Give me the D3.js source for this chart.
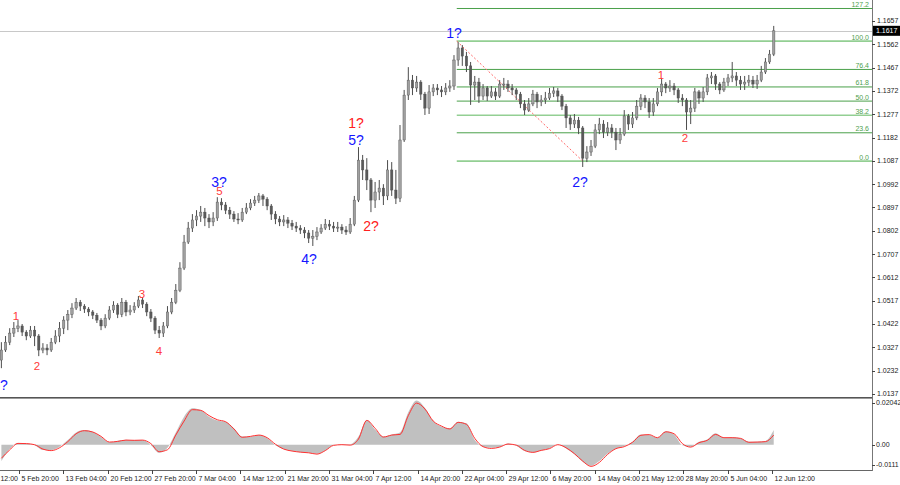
<!DOCTYPE html>
<html><head><meta charset="utf-8">
<script src="https://cdn.jsdelivr.net/npm/d3@7"></script>
<style>html,body{margin:0;padding:0;background:#fff;overflow:hidden}svg{display:block;font-family:"Liberation Sans",Arial,sans-serif}</style>
</head><body><svg id="c" width="900" height="485"></svg>
<script>
// ---------- DATA ----------
// one candle = 3 four-hour bars
const opens=[1.0275,1.0316,1.0348,1.0385,1.0405,1.0414,1.0389,1.0373,1.0397,1.0373,
1.0316,1.0324,1.0316,1.0348,1.0373,1.0405,1.0438,1.0462,1.0487,1.0511,
1.0495,1.0483,1.0471,1.0458,1.0438,1.0414,1.0446,1.0479,1.0499,1.0462,
1.0511,1.0471,1.0479,1.0495,1.0520,1.0503,1.0471,1.0446,1.0397,1.0385,
1.0414,1.0471,1.0511,1.0560,1.0650,1.0756,1.0813,1.0846,1.0862,1.0878,
1.0854,1.0838,1.0854,1.0919,1.0907,1.0886,1.0870,1.0850,1.0846,1.0878,
1.0895,1.0915,1.0927,1.0944,1.0931,1.0903,1.0870,1.0850,1.0838,1.0846,
1.0833,1.0821,1.0813,1.0805,1.0793,1.0772,1.0780,1.0797,1.0813,1.0829,
1.0821,1.0813,1.0817,1.0805,1.0797,1.0829,1.0927,1.1090,1.1050,1.1009,
1.0927,1.0960,1.0976,1.0944,1.1050,1.0968,1.0935,1.1172,1.1355,1.1416,
1.1384,1.1408,1.1359,1.1302,1.1368,1.1384,1.1376,1.1368,1.1384,1.1392,
1.1498,1.1547,1.1514,1.1474,1.1396,1.1408,1.1351,1.1384,1.1351,1.1368,
1.1351,1.1400,1.1400,1.1384,1.1376,1.1359,1.1319,1.1294,1.1319,1.1359,
1.1327,1.1335,1.1343,1.1363,1.1372,1.1351,1.1310,1.1262,1.1237,1.1253,
1.1221,1.1098,1.1123,1.1147,1.1213,1.1237,1.1204,1.1221,1.1204,1.1172,
1.1196,1.1270,1.1237,1.1262,1.1310,1.1343,1.1327,1.1286,1.1319,1.1368,
1.1400,1.1384,1.1392,1.1376,1.1343,1.1335,1.1286,1.1302,1.1368,1.1343,
1.1368,1.1425,1.1433,1.1400,1.1376,1.1408,1.1425,1.1433,1.1416,1.1400,
1.1408,1.1416,1.1400,1.1416,1.1449,1.1490,1.1522];
const highs=[1.0348,1.0373,1.0405,1.0430,1.0438,1.0422,1.0397,1.0414,1.0414,1.0381,
1.0344,1.0340,1.0365,1.0397,1.0430,1.0454,1.0479,1.0507,1.0528,1.0520,
1.0503,1.0491,1.0479,1.0467,1.0446,1.0462,1.0495,1.0515,1.0507,1.0528,
1.0520,1.0499,1.0511,1.0536,1.0532,1.0511,1.0483,1.0454,1.0414,1.0430,
1.0495,1.0528,1.0585,1.0674,1.0785,1.0838,1.0870,1.0886,1.0903,1.0895,
1.0870,1.0878,1.0939,1.0935,1.0919,1.0899,1.0882,1.0874,1.0895,1.0915,
1.0931,1.0944,1.0956,1.0952,1.0939,1.0911,1.0882,1.0862,1.0866,1.0858,
1.0846,1.0838,1.0825,1.0817,1.0805,1.0805,1.0817,1.0829,1.0850,1.0846,
1.0838,1.0838,1.0829,1.0821,1.0854,1.0944,1.1143,1.1111,1.1098,1.1017,
1.1001,1.1009,1.0992,1.1090,1.1082,1.1050,1.1233,1.1376,1.1469,1.1437,
1.1433,1.1416,1.1368,1.1396,1.1400,1.1400,1.1392,1.1404,1.1416,1.1518,
1.1571,1.1559,1.1531,1.1490,1.1433,1.1425,1.1400,1.1392,1.1392,1.1384,
1.1416,1.1425,1.1416,1.1400,1.1384,1.1368,1.1335,1.1343,1.1376,1.1368,
1.1355,1.1368,1.1384,1.1388,1.1384,1.1359,1.1319,1.1274,1.1278,1.1266,
1.1229,1.1147,1.1172,1.1237,1.1262,1.1253,1.1245,1.1237,1.1221,1.1221,
1.1294,1.1278,1.1286,1.1335,1.1359,1.1355,1.1343,1.1343,1.1384,1.1425,
1.1408,1.1416,1.1404,1.1384,1.1359,1.1343,1.1335,1.1384,1.1376,1.1388,
1.1441,1.1449,1.1441,1.1408,1.1425,1.1441,1.1490,1.1449,1.1433,1.1433,
1.1437,1.1433,1.1437,1.1474,1.1506,1.1539,1.1637];
const lows=[1.0242,1.0308,1.0336,1.0369,1.0389,1.0373,1.0356,1.0365,1.0332,1.0291,
1.0303,1.0295,1.0308,1.0340,1.0348,1.0381,1.0397,1.0446,1.0479,1.0475,
1.0467,1.0454,1.0442,1.0426,1.0397,1.0405,1.0438,1.0467,1.0446,1.0450,
1.0454,1.0458,1.0467,1.0487,1.0487,1.0454,1.0430,1.0381,1.0365,1.0369,
1.0405,1.0462,1.0503,1.0552,1.0642,1.0748,1.0797,1.0821,1.0838,1.0821,
1.0813,1.0821,1.0842,1.0886,1.0870,1.0850,1.0838,1.0829,1.0838,1.0870,
1.0886,1.0903,1.0915,1.0903,1.0886,1.0846,1.0829,1.0821,1.0821,1.0813,
1.0805,1.0797,1.0789,1.0772,1.0752,1.0740,1.0764,1.0789,1.0805,1.0805,
1.0797,1.0797,1.0789,1.0785,1.0789,1.0821,1.0919,1.1009,1.0968,1.0878,
1.0895,1.0927,1.0907,1.0927,1.0944,1.0911,1.0919,1.1164,1.1335,1.1355,
1.1368,1.1335,1.1274,1.1278,1.1351,1.1355,1.1347,1.1355,1.1368,1.1376,
1.1474,1.1474,1.1449,1.1315,1.1335,1.1323,1.1335,1.1331,1.1343,1.1335,
1.1343,1.1376,1.1368,1.1355,1.1335,1.1302,1.1274,1.1286,1.1310,1.1302,
1.1310,1.1319,1.1335,1.1347,1.1327,1.1294,1.1221,1.1213,1.1221,1.1196,
1.1062,1.1082,1.1107,1.1139,1.1196,1.1180,1.1188,1.1180,1.1131,1.1156,
1.1188,1.1213,1.1221,1.1253,1.1294,1.1302,1.1262,1.1270,1.1310,1.1351,
1.1363,1.1368,1.1355,1.1323,1.1310,1.1213,1.1237,1.1286,1.1319,1.1327,
1.1355,1.1400,1.1376,1.1359,1.1368,1.1392,1.1408,1.1392,1.1376,1.1376,
1.1392,1.1384,1.1380,1.1408,1.1441,1.1482,1.1514];
const closes=[1.0316,1.0348,1.0385,1.0405,1.0414,1.0389,1.0373,1.0397,1.0373,1.0316,
1.0324,1.0316,1.0348,1.0373,1.0405,1.0438,1.0462,1.0487,1.0511,1.0495,
1.0483,1.0471,1.0458,1.0438,1.0414,1.0446,1.0479,1.0499,1.0462,1.0511,
1.0471,1.0479,1.0495,1.0520,1.0503,1.0471,1.0446,1.0397,1.0385,1.0414,
1.0471,1.0511,1.0560,1.0650,1.0756,1.0813,1.0846,1.0862,1.0878,1.0854,
1.0838,1.0854,1.0919,1.0907,1.0886,1.0870,1.0850,1.0846,1.0878,1.0895,
1.0915,1.0927,1.0944,1.0931,1.0903,1.0870,1.0850,1.0838,1.0846,1.0833,
1.0821,1.0813,1.0805,1.0793,1.0772,1.0780,1.0797,1.0813,1.0829,1.0821,
1.0813,1.0817,1.0805,1.0797,1.0829,1.0927,1.1090,1.1050,1.1009,1.0927,
1.0960,1.0976,1.0944,1.1050,1.0968,1.0935,1.1172,1.1355,1.1416,1.1384,
1.1408,1.1359,1.1302,1.1368,1.1384,1.1376,1.1368,1.1384,1.1392,1.1498,
1.1547,1.1514,1.1474,1.1396,1.1408,1.1351,1.1384,1.1351,1.1368,1.1351,
1.1400,1.1400,1.1384,1.1376,1.1359,1.1319,1.1294,1.1319,1.1359,1.1327,
1.1335,1.1343,1.1363,1.1372,1.1351,1.1310,1.1262,1.1237,1.1253,1.1221,
1.1098,1.1123,1.1147,1.1213,1.1237,1.1204,1.1221,1.1204,1.1172,1.1196,
1.1270,1.1237,1.1262,1.1310,1.1343,1.1327,1.1286,1.1319,1.1368,1.1400,
1.1384,1.1392,1.1376,1.1343,1.1335,1.1286,1.1302,1.1368,1.1343,1.1368,
1.1425,1.1433,1.1400,1.1376,1.1408,1.1425,1.1433,1.1416,1.1400,1.1408,
1.1416,1.1400,1.1416,1.1449,1.1490,1.1522,1.1617];

// MACD (every second candle)
const macdHist=[-0.0075,-0.0020,0.0008,0.0005,-0.0002,-0.0024,-0.0024,-0.0009,0.0021,0.0056,
0.0067,0.0059,0.0035,0.0011,0.0018,0.0023,0.0021,0.0021,-0.0002,-0.0037,
-0.0014,0.0056,0.0128,0.0166,0.0158,0.0128,0.0111,0.0105,0.0075,0.0037,
0.0037,0.0044,0.0029,-0.0002,-0.0020,-0.0029,-0.0034,-0.0037,-0.0041,-0.0026,
-0.0002,0.0002,0.0002,0.0037,0.0113,0.0069,0.0037,0.0047,0.0056,0.0148,
0.0202,0.0169,0.0108,0.0082,0.0075,0.0105,0.0098,0.0021,-0.0009,-0.0014,
-0.0011,0.0005,-0.0005,-0.0029,-0.0035,-0.0026,-0.0017,0.0002,-0.0017,-0.0044,
-0.0078,-0.0096,-0.0075,-0.0040,-0.0017,-0.0006,0.0014,0.0047,0.0044,0.0032,
0.0062,0.0047,-0.0002,-0.0009,0.0014,0.0024,0.0052,0.0032,0.0034,0.0029,
0.0014,0.0014,0.0017,0.0067];
const macdSignal=[-0.0062,-0.0024,0.0006,0.0005,0.0000,-0.0020,-0.0027,-0.0014,0.0014,0.0050,
0.0064,0.0058,0.0038,0.0012,0.0015,0.0021,0.0020,0.0021,0.0005,-0.0032,
-0.0023,0.0044,0.0108,0.0160,0.0157,0.0133,0.0114,0.0105,0.0072,0.0034,
0.0038,0.0044,0.0032,0.0002,-0.0020,-0.0029,-0.0034,-0.0037,-0.0043,-0.0027,
-0.0003,0.0000,-0.0002,0.0026,0.0111,0.0075,0.0035,0.0044,0.0047,0.0133,
0.0190,0.0163,0.0108,0.0085,0.0072,0.0102,0.0093,0.0029,-0.0009,-0.0017,
-0.0011,0.0003,-0.0002,-0.0026,-0.0035,-0.0026,-0.0018,0.0000,-0.0014,-0.0041,
-0.0075,-0.0099,-0.0081,-0.0044,-0.0018,-0.0009,0.0011,0.0043,0.0046,0.0032,
0.0059,0.0050,0.0005,-0.0011,0.0009,0.0020,0.0047,0.0032,0.0032,0.0029,
0.0011,0.0012,0.0014,0.0044];

const priceTicks=["1.1752","1.1657","1.1562","1.1467","1.1372","1.1277","1.1182","1.1087","1.0992","1.0897","1.0802","1.0707","1.0612","1.0517","1.0422","1.0327","1.0232","1.0137"];
const timeLabels=["29 Jan 12:00","5 Feb 20:00","13 Feb 04:00","20 Feb 12:00","27 Feb 20:00","7 Mar 04:00","14 Mar 12:00","21 Mar 20:00","31 Mar 04:00","7 Apr 12:00","14 Apr 20:00","22 Apr 04:00","29 Apr 12:00","6 May 20:00","14 May 04:00","21 May 12:00","28 May 20:00","5 Jun 04:00","12 Jun 12:00"];
const timeLabelBars=[-18.3,13.7,45.7,77.7,109.7,141.7,173.7,205.7,237.7,269.7,301.7,333.7,365.7,397.7,429.7,461.7,493.7,525.7,557.7];
const macdTickLabels=["0.02042","0.00","-0.0111"];
const macdTickValues=[0.02042,0,-0.0111];
const fibLevels=[127.2,100.0,76.4,61.8,50.0,38.2,23.6,0.0];
const fibLevelText=["127.2","100.0","76.4","61.8","50.0","38.2","23.6","0.0"];
const fibHigh=1.1575, fibLow=1.1086, fibStartBar=330, fibEndBar=421;
const currentPrice=1.1617, currentPriceText="1.1617";
const waveText=["1?","2?","3?","5","4?","5?","1?","2?","1","2","3","4","1","2","5?"];
const waveBar=[328,419,158.2,158.6,223.3,257.2,257.2,268.1,11.6,26.7,102.6,114.9,477.6,494.9,0];
const wavePrice=[1.1588,1.0980,1.0980,1.0948,1.0667,1.1152,1.1219,1.0801,1.0438,1.0233,1.0526,1.0296,1.1421,1.1164,1.0153];
const waveKind=["blue","blue","blue","small","blue","blue","red","red","small","small","small","small","small","small","blue"];

// ---------- DRAWING ----------
const svg=d3.select("#c");
const AX=872, MAINB=397, MT=400, MB=469, XAXIS=470;
const x=d3.scaleLinear().domain([0,630]).range([0,AX]);
const y=d3.scaleLinear().domain([1.01245,1.17426]).range([MAINB,0]);
const ym=d3.scaleLinear().domain([-0.0111,0.02042]).range([MB,MT]);

const defs=svg.append("defs");
defs.append("clipPath").attr("id","cm").append("rect").attr("x",0).attr("y",0).attr("width",AX).attr("height",MAINB);
defs.append("clipPath").attr("id","cd").append("rect").attr("x",0).attr("y",399).attr("width",AX).attr("height",XAXIS-399);

const main=svg.append("g").attr("clip-path","url(#cm)");
// current price line
main.append("line").attr("x1",0).attr("x2",AX).attr("y1",Math.round(y(currentPrice))+0.5).attr("y2",Math.round(y(currentPrice))+0.5).attr("stroke","#c8c8c8");
// fib levels
const fibPrice=l=>fibLow+(fibHigh-fibLow)*l/100;
const light=new Set([100,38.2,0]);
fibLevels.forEach((l,i)=>{
  const yy=y(fibPrice(l));
  main.append("line").attr("x1",x(fibStartBar)).attr("x2",AX).attr("y1",yy).attr("y2",yy)
    .attr("stroke",light.has(l)?"#93cf93":"#4aa04a").attr("stroke-width",light.has(l)?1.6:1);
  main.append("text").attr("x",AX-3).attr("y",yy-1.5).attr("text-anchor","end").attr("font-size",7).attr("fill","#4f9f4f").text(fibLevelText[i]);
});
// dashed trend line of fib object
main.append("line").attr("x1",x(fibStartBar)).attr("y1",y(fibHigh)).attr("x2",x(fibEndBar)).attr("y2",y(fibLow))
  .attr("stroke","#ff6a6a").attr("stroke-dasharray","2,2").attr("stroke-width",1);
// candles
const cg=main.append("g");
closes.forEach((c,k)=>{
  const cx=x(k*3+1), o=opens[k];
  cg.append("line").attr("x1",cx).attr("x2",cx).attr("y1",y(highs[k])).attr("y2",y(lows[k])).attr("stroke","#4d4d4d").attr("stroke-width",1);
  const top=y(Math.max(o,c)), bot=y(Math.min(o,c));
  cg.append("rect").attr("x",cx-1.2).attr("width",2.4).attr("y",top).attr("height",Math.max(1,bot-top))
    .attr("fill",c>=o?"#a0a0a0":"#5a5a5a").attr("stroke","#4d4d4d").attr("stroke-width",0.4);
});
// wave labels
const wcol={blue:"#1515ff",red:"#ff2020",small:"#ff3b3b"};
const wsize={blue:14,red:14,small:11.5};
waveText.forEach((t,i)=>{
  main.append("text").attr("x",x(waveBar[i])).attr("y",y(wavePrice[i])).attr("text-anchor","middle")
    .attr("font-size",wsize[waveKind[i]]).attr("fill",wcol[waveKind[i]]).text(t);
});

// MACD
const mg=svg.append("g").attr("clip-path","url(#cd)");
const mx=i=>x(i*6+1);
mg.append("path").datum(macdHist).attr("d",d3.area().x((d,i)=>mx(i)).y0(ym(0)).y1(d=>ym(d)).curve(d3.curveMonotoneX)).attr("fill","#c0c0c0");
mg.append("path").datum(macdSignal).attr("d",d3.line().x((d,i)=>mx(i)).y(d=>ym(d)).curve(d3.curveMonotoneX)).attr("fill","none").attr("stroke","#ff3030").attr("stroke-width",1);

// frame lines
svg.append("line").attr("x1",0).attr("x2",AX).attr("y1",397.5).attr("y2",397.5).attr("stroke","#555");
svg.append("line").attr("x1",0).attr("x2",AX).attr("y1",398.5).attr("y2",398.5).attr("stroke","#999");
svg.append("line").attr("x1",0).attr("x2",AX).attr("y1",XAXIS+0.5).attr("y2",XAXIS+0.5).attr("stroke","#666");
svg.append("line").attr("x1",AX+0.5).attr("x2",AX+0.5).attr("y1",0).attr("y2",XAXIS+1).attr("stroke","#777");

// price axis
const pa=svg.append("g").attr("font-size",7).attr("fill","#222");
priceTicks.forEach(t=>{
  const yy=y(+t);
  pa.append("line").attr("x1",AX).attr("x2",AX+3).attr("y1",Math.round(yy)+0.5).attr("y2",Math.round(yy)+0.5).attr("stroke","#444");
  pa.append("text").attr("x",AX+5).attr("y",yy).attr("dy","0.35em").text(t);
});
// current price box
const cpy=y(currentPrice);
svg.append("rect").attr("x",AX+1).attr("y",cpy-5).attr("width",27).attr("height",10).attr("fill","#000");
svg.append("text").attr("x",AX+4).attr("y",cpy).attr("dy","0.35em").attr("font-size",7).attr("fill","#fff").text(currentPriceText);
// macd axis
macdTickLabels.forEach((t,i)=>{
  const v=macdTickValues[i];
  const yy=i===0?403:(i===2?465:ym(v));
  svg.append("line").attr("x1",AX).attr("x2",AX+3).attr("y1",Math.round(yy)+0.5).attr("y2",Math.round(yy)+0.5).attr("stroke","#444");
  svg.append("text").attr("x",AX+4).attr("y",yy).attr("dy","0.35em").attr("font-size",7).attr("fill","#222").text(t);
});
// time axis
timeLabels.forEach((t,i)=>{
  const xx=Math.round(x(timeLabelBars[i]))+0.5;
  svg.append("line").attr("x1",xx).attr("x2",xx).attr("y1",XAXIS).attr("y2",XAXIS+4).attr("stroke","#444");
  svg.append("text").attr("x",xx+2).attr("y",481).attr("font-size",7).attr("fill","#222").text(t);
});
</script></body></html>
